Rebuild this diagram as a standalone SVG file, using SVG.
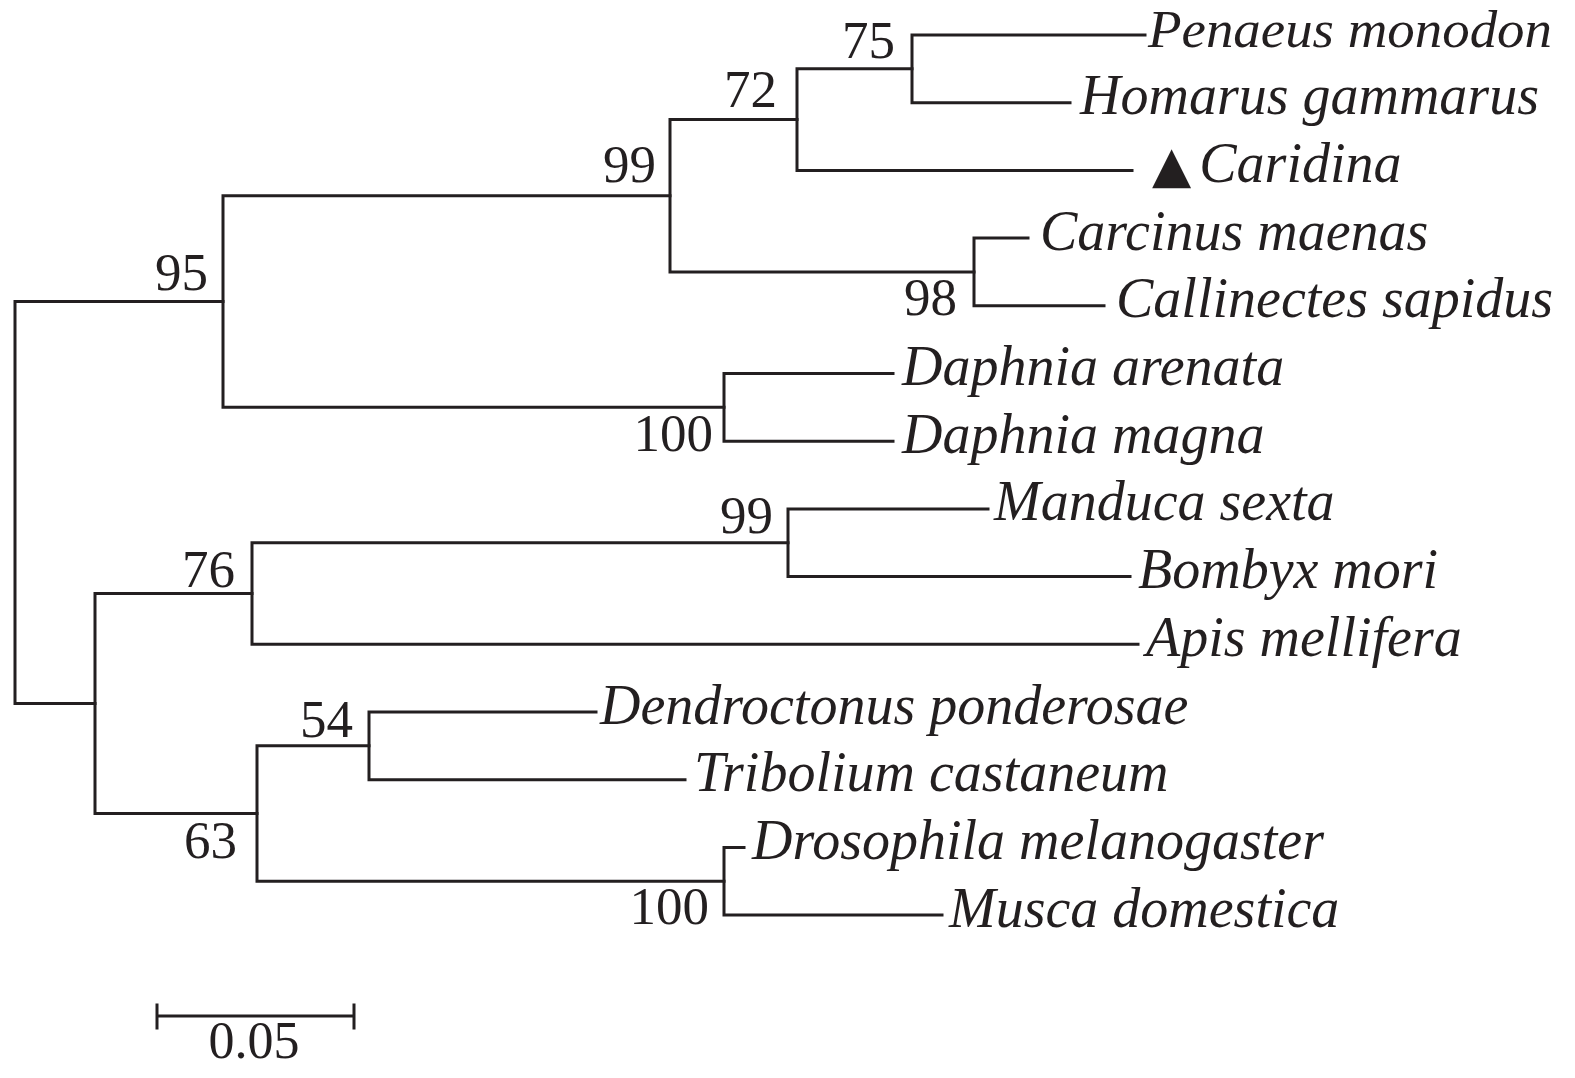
<svg xmlns="http://www.w3.org/2000/svg" width="1575" height="1078" viewBox="0 0 1575 1078">
  <style>
    .br { fill: none; stroke: #231f20; stroke-width: 3; stroke-linecap: square; stroke-linejoin: miter; }
    .tax { font-family: "Liberation Serif", "Times New Roman", serif; font-style: italic; font-size: 56px; fill: #231f20; }
    .bs { font-family: "Liberation Serif", "Times New Roman", serif; font-size: 53px; fill: #231f20; text-anchor: end; }
    .sc { font-family: "Liberation Serif", "Times New Roman", serif; font-size: 52px; fill: #231f20; text-anchor: middle; }
    .tri { font-family: "DejaVu Sans", sans-serif; font-style: normal; font-size: 51px; }
  </style>
  <rect width="1575" height="1078" fill="#ffffff"/>

  <g id="connectors">
    <!-- root -->
    <path class="br" d="M223,301.6 H15 V703.5 H95"/>
    <!-- 95 clade -->
    <path class="br" d="M670,195.8 H223 V407.35 H724"/>
    <path class="br" d="M797,119.6 H670 V271.95 H974"/>
    <path class="br" d="M912,68.85 H797 V170.4 H1132"/>
    <path class="br" d="M1145,35 H912 V102.7 H1070"/>
    <path class="br" d="M1028,238.1 H974 V305.8 H1104"/>
    <path class="br" d="M893,373.5 H724 V441.2 H893"/>
    <!-- insect clade -->
    <path class="br" d="M252,593.5 H95 V813.55 H257"/>
    <path class="br" d="M788,542.75 H252 V644.3 H1138"/>
    <path class="br" d="M988,508.9 H788 V576.6 H1130"/>
    <path class="br" d="M369,745.85 H257 V881.25 H724"/>
    <path class="br" d="M596,712 H369 V779.7 H685"/>
    <path class="br" d="M744,847.4 H724 V915.1 H942"/>
  </g>

  <g id="leaf-penaeus"><text class="tax" x="1148" y="47" style="font-size:52px" textLength="404" lengthAdjust="spacingAndGlyphs">Penaeus monodon</text></g>
  <g id="leaf-homarus"><text class="tax" x="1080" y="114.2">Homarus gammarus</text></g>
  <g id="leaf-caridina"><text class="tax" x="1152" y="182"><tspan class="tri">▲</tspan><tspan dx="8">Caridina</tspan></text></g>
  <g id="leaf-carcinus"><text class="tax" x="1040" y="249.6">Carcinus maenas</text></g>
  <g id="leaf-callinectes"><text class="tax" x="1116" y="317.3">Callinectes sapidus</text></g>
  <g id="leaf-daphnia-arenata"><text class="tax" x="902" y="385">Daphnia arenata</text></g>
  <g id="leaf-daphnia-magna"><text class="tax" x="902" y="452.7">Daphnia magna</text></g>
  <g id="leaf-manduca"><text class="tax" x="994" y="520.4">Manduca sexta</text></g>
  <g id="leaf-bombyx"><text class="tax" x="1138" y="588.1">Bombyx mori</text></g>
  <g id="leaf-apis"><text class="tax" x="1146" y="655.8">Apis mellifera</text></g>
  <g id="leaf-dendroctonus"><text class="tax" x="600" y="723.5">Dendroctonus ponderosae</text></g>
  <g id="leaf-tribolium"><text class="tax" x="694" y="791.2">Tribolium castaneum</text></g>
  <g id="leaf-drosophila"><text class="tax" x="752" y="858.9">Drosophila melanogaster</text></g>
  <g id="leaf-musca"><text class="tax" x="949" y="926.6">Musca domestica</text></g>

  <g id="node-75"><text class="bs" x="895" y="58">75</text></g>
  <g id="node-72"><text class="bs" x="777" y="107">72</text></g>
  <g id="node-99a"><text class="bs" x="656" y="182">99</text></g>
  <g id="node-98"><text class="bs" x="957" y="315">98</text></g>
  <g id="node-95"><text class="bs" x="208" y="290">95</text></g>
  <g id="node-100a"><text class="bs" x="713" y="451">100</text></g>
  <g id="node-99b"><text class="bs" x="773" y="533">99</text></g>
  <g id="node-76"><text class="bs" x="235" y="587">76</text></g>
  <g id="node-54"><text class="bs" x="353" y="737">54</text></g>
  <g id="node-63"><text class="bs" x="237" y="858">63</text></g>
  <g id="node-100b"><text class="bs" x="709" y="924">100</text></g>

  <g id="scale-bar">
    <path class="br" d="M157,1016 H354 M157,1005 V1028 M354,1005 V1028" stroke-linecap="butt"/>
    <text class="sc" x="254" y="1058">0.05</text>
  </g>
</svg>
